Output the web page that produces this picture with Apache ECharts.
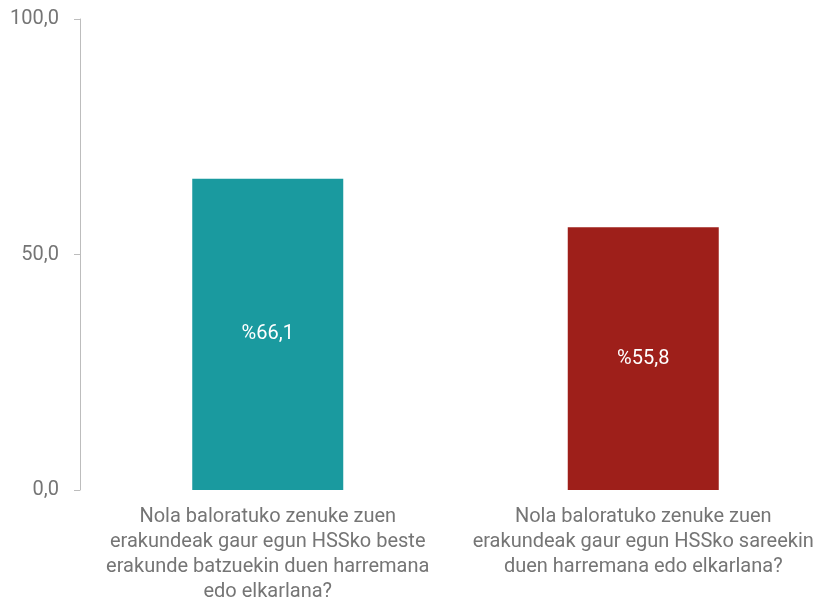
<!DOCTYPE html>
<html>
<head>
<meta charset="utf-8">
<script src="https://cdn.jsdelivr.net/npm/echarts@6/dist/echarts.min.js"></script>
<style>
  html, body { margin: 0; padding: 0; background: #ffffff; }
  #chart { width: 831px; height: 604px; }
</style>
</head>
<body>
<div id="chart"></div>
<script>
// Survey questions (category labels, pre-wrapped)
const categories = [
  'Nola baloratuko zenuke zuen\nerakundeak gaur egun HSSko beste\nerakunde batzuekin duen harremana\nedo elkarlana?',
  'Nola baloratuko zenuke zuen\nerakundeak gaur egun HSSko sareekin\nduen harremana edo elkarlana?'
];
// Average rating (%)
const values = [66.1, 55.8];
const barColors = ['#1a9a9f', '#9e1f1a'];
// Value axis ticks
const yTicks = [0, 50, 100];

const fmt = v => v.toFixed(1).replace('.', ',');

const chart = echarts.init(document.getElementById('chart'));
chart.setOption({
  animation: false,
  grid: { left: 80, right: 0, top: 19, bottom: 111 },
  xAxis: {
    type: 'category',
    data: categories,
    axisLine: { show: false },
    axisTick: { show: false },
    axisLabel: {
      interval: 0,
      margin: 14,
      color: '#757575',
      fontFamily: 'Roboto',
      fontSize: 20,
      lineHeight: 25,
      align: 'center'
    }
  },
  yAxis: {
    type: 'value',
    min: yTicks[0],
    max: yTicks[yTicks.length - 1],
    interval: yTicks[1] - yTicks[0],
    splitLine: { show: false },
    axisLine: { show: true, lineStyle: { color: '#bdbdbd', width: 1 } },
    axisTick: { show: true, length: 6, lineStyle: { color: '#bdbdbd' } },
    axisLabel: {
      margin: 21,
      color: '#757575',
      fontFamily: 'Roboto',
      fontSize: 20,
      formatter: v => fmt(v)
    }
  },
  series: [{
    type: 'bar',
    barWidth: 151,
    data: values.map((v, i) => ({ value: v, itemStyle: { color: barColors[i] } })),
    label: {
      show: true,
      position: 'inside',
      color: '#ffffff',
      fontFamily: 'Roboto',
      fontSize: 20,
      formatter: p => '%' + fmt(p.value)
    }
  }]
});
</script>
</body>
</html>
